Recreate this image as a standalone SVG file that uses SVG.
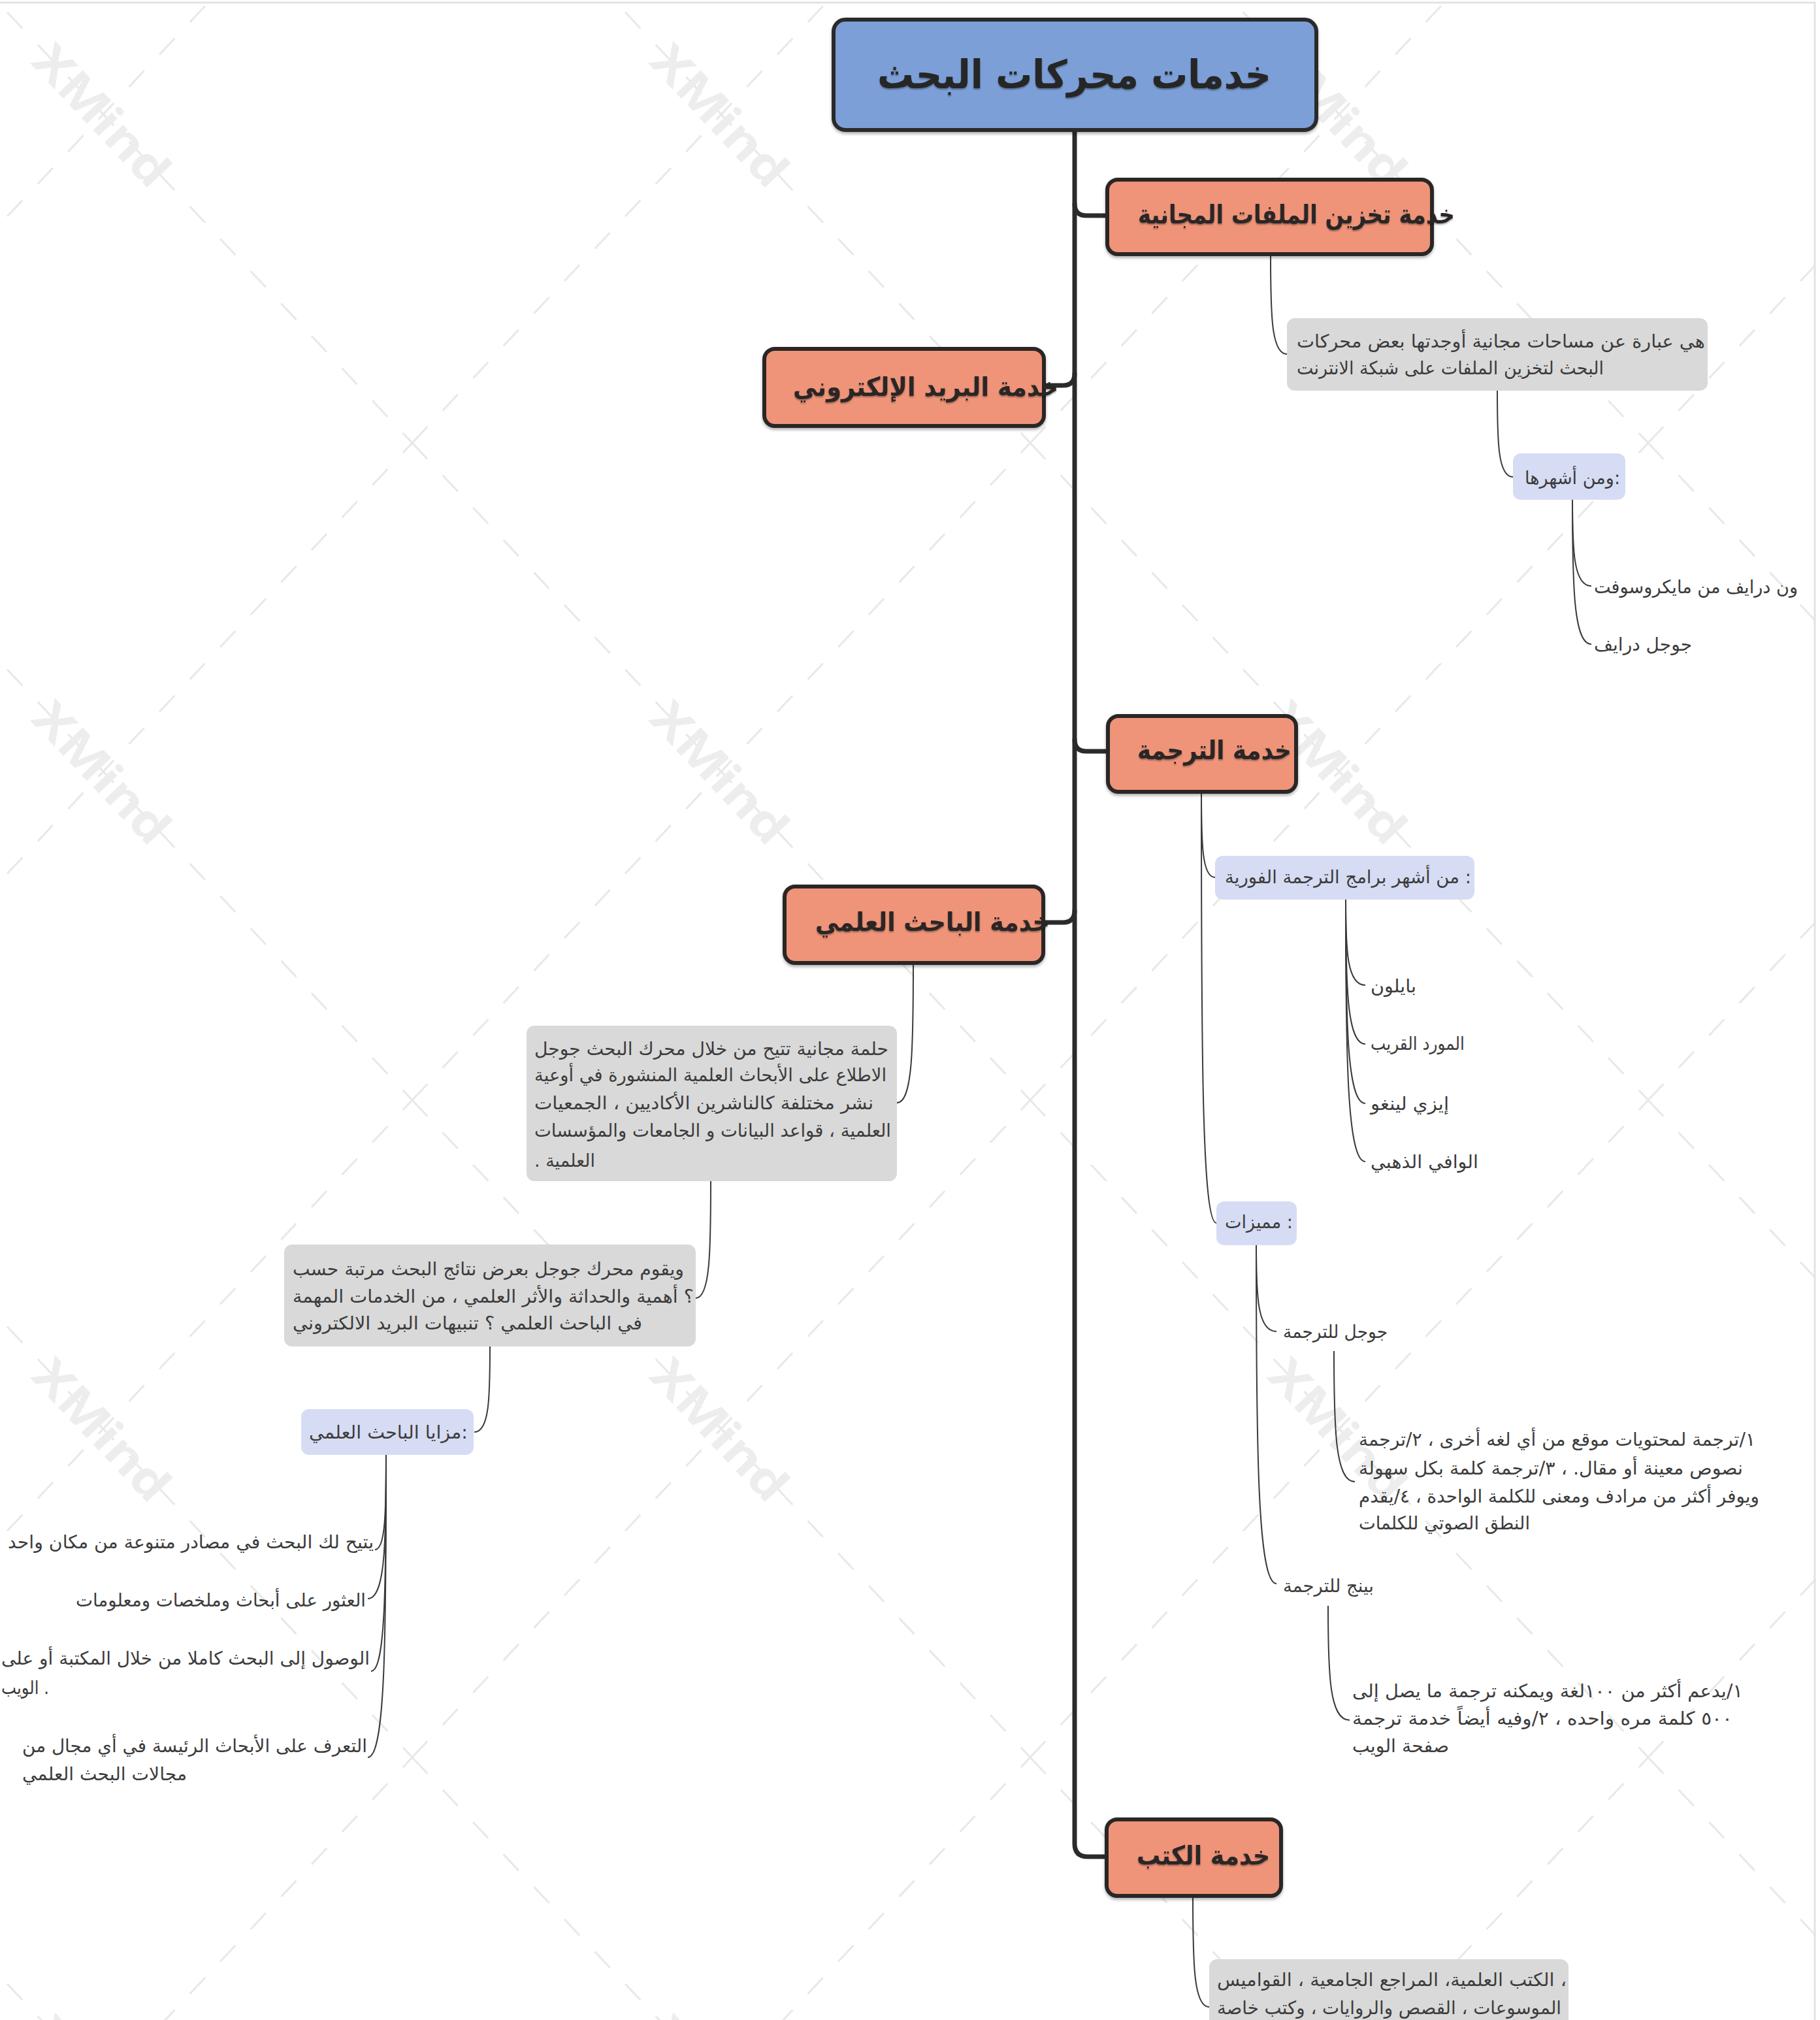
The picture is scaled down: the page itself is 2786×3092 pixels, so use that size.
<svg xmlns="http://www.w3.org/2000/svg" width="2786" height="3092" viewBox="0 0 2786 3092">
<style>
  text { font-family: "DejaVu Sans", "Noto Sans", sans-serif; }
  .t1 { font-size: 60px; font-weight: bold; fill: #262626; filter: url(#txtShadow); }
  .t2 { font-size: 40px; font-weight: bold; fill: #2a2626; filter: url(#txtShadow); }
  .t3 { font-size: 28px; fill: #3c3c3c; }
  .root rect { fill: #7b9fd7; stroke: #2b2b2b; stroke-width: 6; filter: url(#boxShadow); }
  .branch rect { fill: #ef9479; stroke: #2b2727; stroke-width: 6; filter: url(#boxShadow); }
  .note rect { fill: #d9d9d9; }
  .label rect { fill: #d6dcf4; }
  .trunk { fill: none; stroke: #2b2b2b; stroke-width: 7; stroke-linecap: round; stroke-linejoin: round; }
  .thin { fill: none; stroke: #3a3a3a; stroke-width: 2; }
  .wm { font-family: "Open Sans", "DejaVu Sans", sans-serif; font-size: 72px; font-weight: bold; fill: #ededed; }
</style>
<defs>
  <filter id="txtShadow" x="-5%" y="-20%" width="110%" height="150%">
    <feDropShadow dx="0" dy="2" stdDeviation="1.2" flood-color="#000000" flood-opacity="0.35"/>
  </filter>
  <filter id="boxShadow" x="-5%" y="-10%" width="110%" height="125%">
    <feDropShadow dx="0" dy="3" stdDeviation="2" flood-color="#000000" flood-opacity="0.3"/>
  </filter>
  <pattern id="wmPattern" x="631" y="678" width="946" height="1006" patternUnits="userSpaceOnUse">
    <path d="M0 0 L946 1006 M0 1006 L946 0" stroke="#e8e8e8" stroke-width="3" stroke-dasharray="34 34" fill="none"/>
    <text class="wm" x="473" y="503" text-anchor="middle" dominant-baseline="central" transform="rotate(46.8 473 503)" textLength="268" lengthAdjust="spacingAndGlyphs">XMind</text>
  </pattern>
</defs>
<rect x="0" y="0" width="2786" height="3092" fill="#ffffff"/>
<rect x="0" y="0" width="2786" height="3092" fill="url(#wmPattern)"/>
<path d="M0 4 H2778 V3092" fill="none" stroke="#e3e3e3" stroke-width="3"/>

<g id="connectors">
  <path class="trunk" d="M1645 199 V2822 Q1645 2842 1665 2842 H1696"/>
  <path class="trunk" d="M1645 312 Q1645 330 1663 330 H1696"/>
  <path class="trunk" d="M1645 572 Q1645 590 1627 590 H1598"/>
  <path class="trunk" d="M1645 1132 Q1645 1150 1663 1150 H1696"/>
  <path class="trunk" d="M1645 1394 Q1645 1412 1627 1412 H1598"/>

  <path class="thin" d="M1945 390 C1945 481 1946 542 1970 542"/>
  <path class="thin" d="M2292 598 C2292 677 2293 730 2316 730"/>
  <path class="thin" d="M2407 765 C2407 844 2409 897 2436 897"/>
  <path class="thin" d="M2407 765 C2407 898 2409 986 2436 986"/>
  <path class="thin" d="M1839 1213 C1839 1291 1840 1343 1860 1343"/>
  <path class="thin" d="M1839 1213 C1839 1609 1840 1872 1862 1872"/>
  <path class="thin" d="M2060 1377 C2060 1455 2062 1508 2090 1508"/>
  <path class="thin" d="M2060 1377 C2060 1510 2062 1598 2090 1598"/>
  <path class="thin" d="M2060 1377 C2060 1564 2062 1689 2090 1689"/>
  <path class="thin" d="M2060 1377 C2060 1617 2062 1778 2090 1778"/>
  <path class="thin" d="M1923 1906 C1923 1985 1925 2038 1954 2038"/>
  <path class="thin" d="M1923 1906 C1923 2217 1925 2424 1954 2424"/>
  <path class="thin" d="M2042 2068 C2042 2188 2044 2268 2074 2268"/>
  <path class="thin" d="M2033 2458 C2033 2563 2035 2633 2066 2633"/>
  <path class="thin" d="M1826 2903 C1826 3004 1827 3072 1851 3072"/>
  <path class="thin" d="M1398 1475 C1398 1603 1397 1688 1373 1688"/>
  <path class="thin" d="M1088 1808 C1088 1915 1087 1987 1065 1987"/>
  <path class="thin" d="M750 2061 C750 2140 749 2192 726 2192"/>
  <path class="thin" d="M591 2227 C591 2314 590 2372 574 2372"/>
  <path class="thin" d="M591 2227 C591 2359 590 2447 563 2447"/>
  <path class="thin" d="M591 2227 C591 2426 590 2558 568 2558"/>
  <path class="thin" d="M591 2227 C591 2506 590 2690 563 2690"/>
</g>

<g id="root" class="root">
  <rect x="1276" y="30" width="739" height="169" rx="18"/>
  <text class="t1" x="1343" y="135" textLength="603" lengthAdjust="spacingAndGlyphs">خدمات محركات البحث</text>
</g>

<g id="storage" class="branch">
  <rect x="1695" y="275" width="497" height="114" rx="16"/>
  <text class="t2" x="1742" y="342" textLength="485" lengthAdjust="spacingAndGlyphs">خدمة تخزين الملفات المجانية</text>
</g>
<g id="email" class="branch">
  <rect x="1170" y="534" width="428" height="118" rx="16"/>
  <text class="t2" x="1214" y="606" textLength="406" lengthAdjust="spacingAndGlyphs">خدمة البريد الإلكتروني</text>
</g>
<g id="translation" class="branch">
  <rect x="1696" y="1096" width="288" height="116" rx="16"/>
  <text class="t2" x="1741" y="1162" textLength="236" lengthAdjust="spacingAndGlyphs">خدمة الترجمة</text>
</g>
<g id="researcher" class="branch">
  <rect x="1201" y="1357" width="396" height="117" rx="16"/>
  <text class="t2" x="1248" y="1425" textLength="359" lengthAdjust="spacingAndGlyphs">خدمة الباحث العلمي</text>
</g>
<g id="books" class="branch">
  <rect x="1694" y="2785" width="267" height="117" rx="16"/>
  <text class="t2" x="1740" y="2854" textLength="204" lengthAdjust="spacingAndGlyphs">خدمة الكتب</text>
</g>

<g id="storage-desc" class="note">
  <rect x="1970" y="487" width="644" height="111" rx="12"/>
  <text class="t3" x="1985" y="532" textLength="625" lengthAdjust="spacingAndGlyphs">هي عبارة عن مساحات مجانية أوجدتها بعض محركات</text>
  <text class="t3" x="1985" y="573" textLength="470" lengthAdjust="spacingAndGlyphs">البحث لتخزين الملفات على شبكة الانترنت</text>
</g>
<g id="storage-famous" class="label">
  <rect x="2316" y="694" width="172" height="71" rx="12"/>
  <text class="t3" x="2334" y="741" textLength="146" lengthAdjust="spacingAndGlyphs">ومن أشهرها:</text>
</g>
<g id="onedrive">
  <text class="t3" x="2440" y="908" textLength="312" lengthAdjust="spacingAndGlyphs">ون درايف من مايكروسوفت</text>
</g>
<g id="googledrive">
  <text class="t3" x="2440" y="996" textLength="150" lengthAdjust="spacingAndGlyphs">جوجل درايف</text>
</g>

<g id="trans-famous" class="label">
  <rect x="1860" y="1310" width="397" height="67" rx="12"/>
  <text class="t3" x="1875" y="1352" textLength="377" lengthAdjust="spacingAndGlyphs">من أشهر برامج الترجمة الفورية :</text>
</g>
<g id="babylon"><text class="t3" x="2098" y="1519" textLength="70" lengthAdjust="spacingAndGlyphs">بايلون</text></g>
<g id="almawrid"><text class="t3" x="2098" y="1607" textLength="144" lengthAdjust="spacingAndGlyphs">المورد القريب</text></g>
<g id="easylingo"><text class="t3" x="2098" y="1699" textLength="120" lengthAdjust="spacingAndGlyphs">إيزي لينغو</text></g>
<g id="alwafi"><text class="t3" x="2098" y="1788" textLength="165" lengthAdjust="spacingAndGlyphs">الوافي الذهبي</text></g>

<g id="features" class="label">
  <rect x="1862" y="1839" width="123" height="67" rx="12"/>
  <text class="t3" x="1875" y="1880" textLength="104" lengthAdjust="spacingAndGlyphs">مميزات :</text>
</g>
<g id="google-translate"><text class="t3" x="1964" y="2048" textLength="160" lengthAdjust="spacingAndGlyphs">جوجل للترجمة</text></g>
<g id="google-translate-desc">
  <text class="t3" x="2080" y="2213" textLength="607" lengthAdjust="spacingAndGlyphs">١/ترجمة لمحتويات موقع من أي لغه أخرى ، ٢/ترجمة</text>
  <text class="t3" x="2080" y="2257" textLength="588" lengthAdjust="spacingAndGlyphs">نصوص معينة أو مقال. ، ٣/ترجمة كلمة بكل سهولة</text>
  <text class="t3" x="2080" y="2300" textLength="613" lengthAdjust="spacingAndGlyphs">ويوفر أكثر من مرادف ومعنى للكلمة الواحدة ، ٤/يقدم</text>
  <text class="t3" x="2080" y="2341" textLength="262" lengthAdjust="spacingAndGlyphs">النطق الصوتي للكلمات</text>
</g>
<g id="bing-translate"><text class="t3" x="1964" y="2437" textLength="139" lengthAdjust="spacingAndGlyphs">بينج للترجمة</text></g>
<g id="bing-translate-desc">
  <text class="t3" x="2070" y="2598" textLength="598" lengthAdjust="spacingAndGlyphs">١/يدعم أكثر من ١٠٠لغة ويمكنه ترجمة ما يصل إلى</text>
  <text class="t3" x="2070" y="2640" textLength="582" lengthAdjust="spacingAndGlyphs">٥٠٠ كلمة مره واحده  ،  ٢/وفيه أيضاً خدمة ترجمة</text>
  <text class="t3" x="2070" y="2682" textLength="148" lengthAdjust="spacingAndGlyphs">صفحة الويب</text>
</g>

<g id="books-desc" class="note">
  <rect x="1851" y="2999" width="550" height="130" rx="12"/>
  <text class="t3" x="1863" y="3040" textLength="535" lengthAdjust="spacingAndGlyphs">الكتب العلمية، المراجع الجامعية  ، القواميس  ،</text>
  <text class="t3" x="1863" y="3083" textLength="527" lengthAdjust="spacingAndGlyphs">الموسوعات ، القصص والروايات ، وكتب خاصة</text>
</g>

<g id="researcher-desc" class="note">
  <rect x="806" y="1570" width="567" height="238" rx="12"/>
  <text class="t3" x="818" y="1615" textLength="542" lengthAdjust="spacingAndGlyphs">حلمة مجانية تتيح من خلال محرك البحث جوجل</text>
  <text class="t3" x="818" y="1655" textLength="539" lengthAdjust="spacingAndGlyphs">الاطلاع على الأبحاث العلمية المنشورة في أوعية</text>
  <text class="t3" x="818" y="1698" textLength="519" lengthAdjust="spacingAndGlyphs">نشر مختلفة كالناشرين الأكاديين ، الجمعيات</text>
  <text class="t3" x="818" y="1740" textLength="546" lengthAdjust="spacingAndGlyphs">العلمية ، قواعد البيانات و الجامعات والمؤسسات</text>
  <text class="t3" x="818" y="1786" textLength="93" lengthAdjust="spacingAndGlyphs">. العلمية</text>
</g>
<g id="google-scholar-desc" class="note">
  <rect x="435" y="1905" width="630" height="156" rx="12"/>
  <text class="t3" x="448" y="1952" textLength="599" lengthAdjust="spacingAndGlyphs">ويقوم محرك جوجل بعرض  نتائج البحث مرتبة حسب</text>
  <text class="t3" x="448" y="1994" textLength="614" lengthAdjust="spacingAndGlyphs">؟  أهمية والحداثة والأثر العلمي  ، من الخدمات المهمة</text>
  <text class="t3" x="448" y="2035" textLength="535" lengthAdjust="spacingAndGlyphs">في الباحث العلمي ؟ تنبيهات البريد الالكتروني</text>
</g>
<g id="scholar-advantages" class="label">
  <rect x="461" y="2157" width="264" height="70" rx="12"/>
  <text class="t3" x="473" y="2202" textLength="243" lengthAdjust="spacingAndGlyphs">مزايا الباحث العلمي:</text>
</g>
<g id="adv1"><text class="t3" x="12" y="2370" textLength="560" lengthAdjust="spacingAndGlyphs">يتيح لك البحث في مصادر متنوعة من مكان واحد</text></g>
<g id="adv2"><text class="t3" x="116" y="2459" textLength="444" lengthAdjust="spacingAndGlyphs">العثور على أبحاث وملخصات ومعلومات</text></g>
<g id="adv3">
  <text class="t3" x="2" y="2548" textLength="564" lengthAdjust="spacingAndGlyphs">الوصول إلى البحث كاملا من خلال المكتبة أو على</text>
  <text class="t3" x="2" y="2593" textLength="73" lengthAdjust="spacingAndGlyphs">الويب .</text>
</g>
<g id="adv4">
  <text class="t3" x="34" y="2682" textLength="528" lengthAdjust="spacingAndGlyphs">التعرف على الأبحاث الرئيسة في أي مجال من</text>
  <text class="t3" x="34" y="2725" textLength="252" lengthAdjust="spacingAndGlyphs">مجالات البحث العلمي</text>
</g>
</svg>
